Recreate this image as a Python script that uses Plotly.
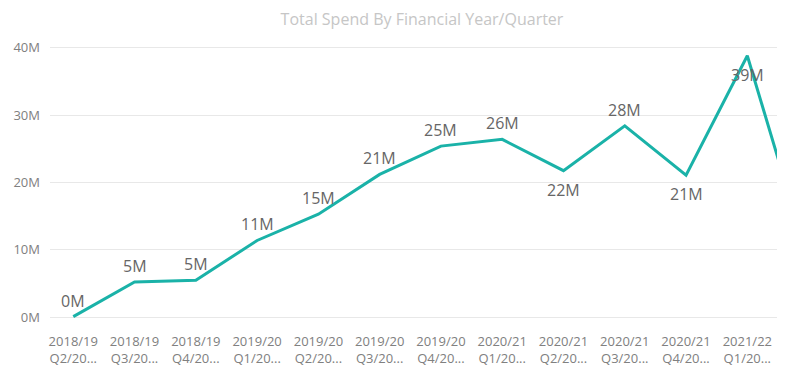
import plotly.graph_objects as go

# ---- data ----
years = ["2018/19", "2018/19", "2018/19", "2019/20", "2019/20", "2019/20",
         "2019/20", "2020/21", "2020/21", "2020/21", "2020/21", "2021/22", "2021/22"]
quarters = ["Q2/20...", "Q3/20...", "Q4/20...", "Q1/20...", "Q2/20...", "Q3/20...",
            "Q4/20...", "Q1/20...", "Q2/20...", "Q3/20...", "Q4/20...", "Q1/20...", "Q2/20..."]
spend = [0.1e6, 5.24e6, 5.49e6, 11.4e6, 15.3e6, 21.2e6,
         25.4e6, 26.4e6, 21.75e6, 28.4e6, 21.1e6, 38.8e6, 8.4e6]
y_ticks = [0, 10e6, 20e6, 30e6, 40e6]
y_tick_labels = ["0M", "10M", "20M", "30M", "40M"]

visible_n = 12
idx = list(range(len(spend)))
tick_text = [f"{y}<br>{q}" for y, q in zip(years, quarters)]

FONT = "Segoe UI, Open Sans, sans-serif"

fig = go.Figure()
fig.add_trace(go.Scatter(
    x=idx, y=spend, mode="lines",
    line=dict(color="#1AB2A8", width=3),
    hoverinfo="skip", showlegend=False,
))

vmax = max(spend)
for i in range(visible_n):
    v = spend[i]
    below = (i > 0 and v < spend[i - 1]) or v == vmax
    fig.add_annotation(
        x=i, y=v, text=f"{round(v / 1e6)}M", showarrow=False,
        yshift=-19 if below else 16,
        font=dict(family=FONT, size=16, color="#666666"),
    )

W, H = 777, 374
fig.update_layout(
    width=W, height=H,
    margin=dict(l=42, r=6, t=32, b=57),
    paper_bgcolor="white", plot_bgcolor="white",
    title=dict(text="Total Spend By Financial Year/Quarter", x=414 / W, xanchor="center",
               y=1 - 11 / H, yanchor="middle",
               font=dict(family=FONT, size=16, color="#c6c6c6")),
    xaxis=dict(range=[-0.38, 11.517], tickmode="array",
               tickvals=idx[:visible_n], ticktext=tick_text[:visible_n],
               showgrid=False, zeroline=False, showline=False, ticks="",
               ticklabelstandoff=7,
               tickfont=dict(family=FONT, size=13, color="#808080")),
    yaxis=dict(range=[-1.14e6, 41.14e6], tickmode="array",
               tickvals=y_ticks, ticktext=y_tick_labels,
               showgrid=True, gridcolor="#e8e8e8", gridwidth=1,
               zeroline=False, showline=False, ticks="", ticklabelstandoff=9,
               tickfont=dict(family=FONT, size=13, color="#808080")),
)

fig.write_html("out.html")
